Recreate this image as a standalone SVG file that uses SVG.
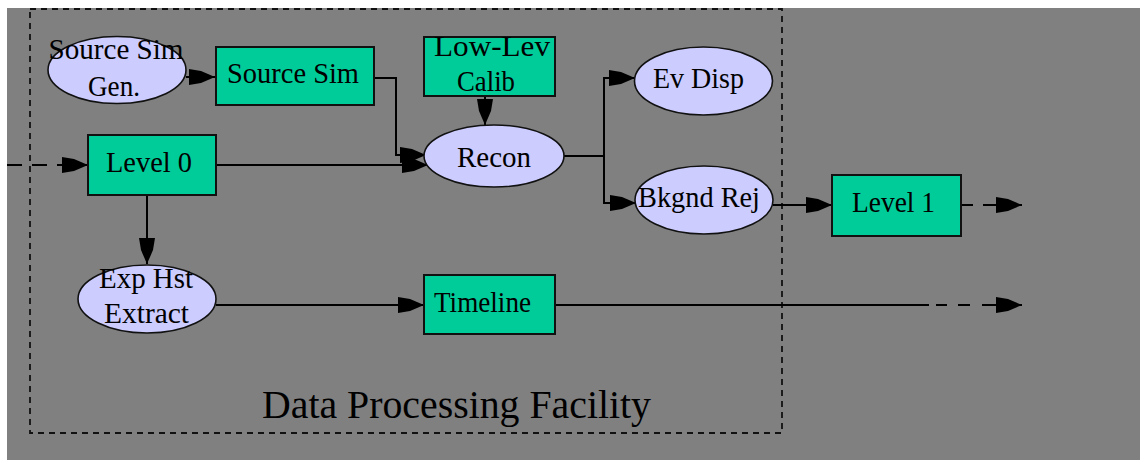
<svg xmlns="http://www.w3.org/2000/svg" width="1140" height="461" viewBox="0 0 1140 461">
  <style>
    .box { fill: #00CC99; stroke: #111; stroke-width: 2; }
    .oval { fill: #CCCCFF; stroke: #111; stroke-width: 1.6; }
    .lbl { font-family: "Liberation Serif", "Times New Roman", serif; font-size: 29px; fill: #000; text-anchor: middle; }
    .title { font-family: "Liberation Serif", "Times New Roman", serif; font-size: 41px; fill: #000; text-anchor: middle; }
    .wire { fill: none; stroke: #000; stroke-width: 2; }
    .arr { marker-end: url(#head); }
    .frame { fill: none; stroke: #111; stroke-width: 1.8; stroke-dasharray: 6 5; }
  </style>
  <defs>
    <marker id="head" viewBox="0 -8 26 16" refX="26" refY="0" markerWidth="26" markerHeight="16" markerUnits="userSpaceOnUse" orient="auto">
      <path d="M0,-8 L12,-6 L26,0 L12,6 L0,8 Z" fill="#000"/>
    </marker>
  </defs>

  <!-- canvas -->
  <rect x="0" y="0" width="1140" height="461" fill="#FFFFFF"/>
  <rect x="7" y="8" width="1133" height="452" fill="#808080"/>

  <!-- facility boundary -->
  <g id="facility">
    <rect class="frame" x="30" y="9" width="752" height="424"/>
    <text class="title" x="456.5" y="418" textLength="389" lengthAdjust="spacingAndGlyphs">Data Processing Facility</text>
  </g>

  <!-- connectors -->
  <g id="connectors">
    <line class="wire" x1="7" y1="165" x2="62" y2="165" stroke-dasharray="15 10"/>
    <line class="wire arr" x1="60" y1="165" x2="88" y2="165"/>
    <line class="wire arr" x1="186" y1="77" x2="215" y2="77"/>
    <path class="wire arr" d="M374,78 H396 V155 H426"/>
    <line class="wire arr" x1="216" y1="165" x2="428" y2="165"/>
    <line class="wire arr" x1="485" y1="96" x2="485" y2="125"/>
    <line class="wire" x1="564" y1="156" x2="604" y2="156"/>
    <line class="wire" x1="604" y1="78" x2="604" y2="203"/>
    <line class="wire arr" x1="603" y1="78" x2="635" y2="78"/>
    <line class="wire arr" x1="603" y1="203" x2="636" y2="203"/>
    <line class="wire arr" x1="773" y1="205" x2="832" y2="205"/>
    <line class="wire" x1="961" y1="205" x2="973" y2="205"/>
    <line class="wire arr" x1="983" y1="205" x2="1022" y2="205"/>
    <line class="wire arr" x1="147" y1="195" x2="147" y2="264"/>
    <line class="wire arr" x1="216" y1="305" x2="424" y2="305"/>
    <line class="wire" x1="555" y1="305" x2="929" y2="305"/>
    <line class="wire" x1="936" y1="305" x2="947" y2="305"/>
    <line class="wire" x1="958" y1="305" x2="970" y2="305"/>
    <line class="wire arr" x1="982" y1="305" x2="1022" y2="305"/>
  </g>

  <!-- nodes -->
  <g id="source-sim-gen">
    <ellipse class="oval" cx="117" cy="70" rx="69" ry="33.5"/>
    <text class="lbl" x="116" y="59" textLength="135" lengthAdjust="spacingAndGlyphs">Source Sim</text>
    <text class="lbl" x="114" y="96" textLength="52" lengthAdjust="spacingAndGlyphs">Gen.</text>
  </g>
  <g id="source-sim">
    <rect class="box" x="216" y="47" width="158" height="58"/>
    <text class="lbl" x="293" y="83" textLength="132" lengthAdjust="spacingAndGlyphs">Source Sim</text>
  </g>
  <g id="level-0">
    <rect class="box" x="88" y="135" width="128" height="60"/>
    <text class="lbl" x="149" y="172" textLength="86" lengthAdjust="spacingAndGlyphs">Level 0</text>
  </g>
  <g id="low-lev-calib">
    <rect class="box" x="424" y="37" width="131" height="59"/>
    <text class="lbl" x="492" y="56" textLength="116" lengthAdjust="spacingAndGlyphs">Low-Lev</text>
    <text class="lbl" x="486" y="91" textLength="58" lengthAdjust="spacingAndGlyphs">Calib</text>
  </g>
  <g id="recon">
    <ellipse class="oval" cx="494" cy="156" rx="70" ry="31"/>
    <text class="lbl" x="494" y="167" textLength="74" lengthAdjust="spacingAndGlyphs">Recon</text>
  </g>
  <g id="ev-disp">
    <ellipse class="oval" cx="703.5" cy="81" rx="69" ry="34"/>
    <text class="lbl" x="698.5" y="88" textLength="91" lengthAdjust="spacingAndGlyphs">Ev Disp</text>
  </g>
  <g id="bkgnd-rej">
    <ellipse class="oval" cx="704" cy="200" rx="69" ry="34"/>
    <text class="lbl" x="699" y="207" textLength="122" lengthAdjust="spacingAndGlyphs">Bkgnd Rej</text>
  </g>
  <g id="level-1">
    <rect class="box" x="832" y="175" width="129" height="61"/>
    <text class="lbl" x="893.5" y="212" textLength="83" lengthAdjust="spacingAndGlyphs">Level 1</text>
  </g>
  <g id="exp-hst-extract">
    <ellipse class="oval" cx="147" cy="299" rx="69" ry="34"/>
    <text class="lbl" x="146" y="288" textLength="94" lengthAdjust="spacingAndGlyphs">Exp Hst</text>
    <text class="lbl" x="146.5" y="323" textLength="85" lengthAdjust="spacingAndGlyphs">Extract</text>
  </g>
  <g id="timeline">
    <rect class="box" x="424" y="275" width="131" height="59"/>
    <text class="lbl" x="482.5" y="312" textLength="97" lengthAdjust="spacingAndGlyphs">Timeline</text>
  </g>
</svg>
